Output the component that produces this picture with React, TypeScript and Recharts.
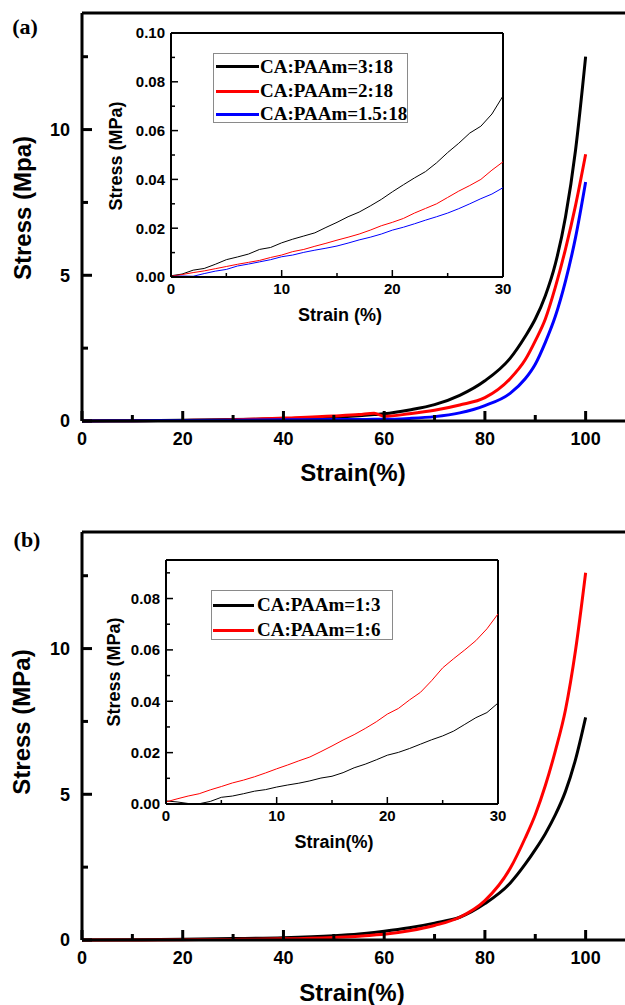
import React from 'react';
import { LineChart, Line, XAxis, YAxis, ReferenceLine } from 'recharts';

// main curves, strain in %
const strain = [0, 10, 20, 30, 40, 50, 55, 58, 60, 65, 70, 75, 80, 85, 88, 90, 92, 94, 96, 98, 100];
const a_3_18 = [0, 0.01, 0.03, 0.05, 0.08, 0.13, 0.18, 0.22, 0.25, 0.38, 0.56, 0.88, 1.38, 2.15, 2.9, 3.5, 4.3, 5.4, 7.0, 9.3, 12.5];
const a_2_18 = [0, 0.01, 0.02, 0.04, 0.1, 0.17, 0.22, 0.27, 0.16, 0.25, 0.37, 0.55, 0.8, 1.45, 2.1, 2.75, 3.5, 4.6, 5.9, 7.4, 9.15];
const a_15_18 = [0, 0.01, 0.02, 0.03, 0.04, 0.05, 0.05, 0.06, 0.06, 0.09, 0.15, 0.28, 0.53, 0.95, 1.45, 1.95, 2.7, 3.6, 4.8, 6.3, 8.2];
const b_1_3 = [0, 0.01, 0.03, 0.05, 0.08, 0.15, 0.21, 0.26, 0.3, 0.42, 0.58, 0.78, 1.25, 1.95, 2.6, 3.1, 3.65, 4.3, 5.1, 6.2, 7.64];
const b_1_6 = [0, 0, 0.01, 0.02, 0.04, 0.09, 0.13, 0.17, 0.2, 0.32, 0.5, 0.78, 1.35, 2.45, 3.5, 4.3, 5.3, 6.5, 7.9, 9.95, 12.6];

// insets, strain 0-30 %
const insetStrain = [0, 1, 2, 3, 4, 5, 6, 7, 8, 9, 10, 11, 12, 13, 14, 15, 16, 17, 18, 19, 20, 21, 22, 23, 24, 25, 26, 27, 28, 29, 30];
const ia_3_18 = [0.0005, 0.0012, 0.0028, 0.0035, 0.0052, 0.0071, 0.0082, 0.0094, 0.0113, 0.0121, 0.014, 0.0155, 0.0168, 0.0181, 0.0203, 0.0224, 0.0247, 0.0266, 0.0291, 0.0318, 0.0349, 0.0378, 0.0406, 0.0432, 0.0468, 0.051, 0.0548, 0.059, 0.0618, 0.0668, 0.0742];
const ia_2_18 = [0.0003, 0.001, 0.0018, 0.0025, 0.0034, 0.0043, 0.0052, 0.006, 0.0068, 0.008, 0.009, 0.0104, 0.0113, 0.0126, 0.0138, 0.0151, 0.0163, 0.0176, 0.0192, 0.021, 0.0224, 0.024, 0.0262, 0.0281, 0.03, 0.0326, 0.0352, 0.0375, 0.04, 0.0438, 0.0472];
const ia_15_18 = [0.0002, 0.0004, 0.0003, 0.0014, 0.0024, 0.0031, 0.0045, 0.0053, 0.0062, 0.0071, 0.0083, 0.009, 0.0101, 0.011, 0.0118, 0.0127, 0.0139, 0.0152, 0.0163, 0.0176, 0.0192, 0.0204, 0.0218, 0.0233, 0.0247, 0.0262, 0.028, 0.03, 0.0321, 0.034, 0.0366];
const ib_1_3 = [0.0012, 0.0008, 0.0002, 0.0001, 0.001, 0.0026, 0.0031, 0.004, 0.005, 0.0056, 0.0066, 0.0074, 0.0081, 0.009, 0.0101, 0.0108, 0.0122, 0.0141, 0.0155, 0.0172, 0.019, 0.0201, 0.0216, 0.0233, 0.025, 0.0265, 0.0284, 0.031, 0.0336, 0.0356, 0.0393];
const ib_1_6 = [0.0008, 0.002, 0.0031, 0.004, 0.0055, 0.0068, 0.0082, 0.0093, 0.0106, 0.0121, 0.0137, 0.0152, 0.0168, 0.0183, 0.0204, 0.0226, 0.0249, 0.027, 0.0294, 0.032, 0.035, 0.0372, 0.0405, 0.0435, 0.048, 0.053, 0.0566, 0.06, 0.0636, 0.0682, 0.074];

const mainXTicks = [0, 10, 20, 30, 40, 50, 60, 70, 80, 90, 100];
const mainYTicks = [0, 2.5, 5, 7.5, 10, 12.5];
const insetXTicks = [0, 5, 10, 15, 20, 25, 30];
const insetYTicksA = [0, 0.01, 0.02, 0.03, 0.04, 0.05, 0.06, 0.07, 0.08, 0.09, 0.1];
const insetYTicksB = [0, 0.01, 0.02, 0.03, 0.04, 0.05, 0.06, 0.07, 0.08, 0.09];

const SANS = '"Liberation Sans", Arial, sans-serif';
const SERIF = '"Liberation Serif", "Times New Roman", serif';

type Series = { key: string; label: string; color: string; values: number[] };

const toRows = (xs: number[], series: Series[]) =>
  xs.map((x, i) => {
    const r: any = { strain: x };
    series.forEach((s) => (r[s.key] = s.values[i]));
    return r;
  });

const mainA: Series[] = [
  { key: 's1', label: 'CA:PAAm=3:18', color: '#000000', values: a_3_18 },
  { key: 's2', label: 'CA:PAAm=2:18', color: '#ff0000', values: a_2_18 },
  { key: 's3', label: 'CA:PAAm=1.5:18', color: '#0000ff', values: a_15_18 },
];
const insetA: Series[] = [
  { key: 's1', label: 'CA:PAAm=3:18', color: '#000000', values: ia_3_18 },
  { key: 's2', label: 'CA:PAAm=2:18', color: '#ff0000', values: ia_2_18 },
  { key: 's3', label: 'CA:PAAm=1.5:18', color: '#0000ff', values: ia_15_18 },
];
const mainB: Series[] = [
  { key: 's1', label: 'CA:PAAm=1:3', color: '#000000', values: b_1_3 },
  { key: 's2', label: 'CA:PAAm=1:6', color: '#ff0000', values: b_1_6 },
];
const insetB: Series[] = [
  { key: 's1', label: 'CA:PAAm=1:3', color: '#000000', values: ib_1_3 },
  { key: 's2', label: 'CA:PAAm=1:6', color: '#ff0000', values: ib_1_6 },
];

// inward ticks, label only on major ones
const xTick = (isMajor: (v: number) => boolean, fmt: (v: number) => string, big: number, small: number, sw: number, fs: number, dy: number) =>
  (props: any) => {
    const { x, y, payload } = props;
    const m = isMajor(payload.value);
    return (
      <g>
        <line x1={x} x2={x} y1={y} y2={y - (m ? big : small)} stroke="#000" strokeWidth={sw} />
        {m && (
          <text x={x} y={y + dy} textAnchor="middle" fontFamily={SANS} fontWeight="bold" fontSize={fs} fill="#000">
            {fmt(payload.value)}
          </text>
        )}
      </g>
    );
  };

const yTick = (isMajor: (v: number) => boolean, fmt: (v: number) => string, big: number, small: number, sw: number, fs: number, dx: number) =>
  (props: any) => {
    const { x, y, payload } = props;
    const m = isMajor(payload.value);
    return (
      <g>
        <line x1={x} x2={x + (m ? big : small)} y1={y} y2={y} stroke="#000" strokeWidth={sw} />
        {m && (
          <text x={x - dx} y={y + fs * 0.36} textAnchor="end" fontFamily={SANS} fontWeight="bold" fontSize={fs} fill="#000">
            {fmt(payload.value)}
          </text>
        )}
      </g>
    );
  };

const MainChart = ({ top, series }: { top: number; series: Series[] }) => (
  <div style={{ position: 'absolute', left: 0, top }}>
    <LineChart width={636} height={451} data={toRows(strain, series)} margin={{ top: 13, right: 0, bottom: 0, left: 0 }}>
      <XAxis
        type="number"
        dataKey="strain"
        domain={[0, 110]}
        ticks={mainXTicks}
        interval={0}
        height={30}
        tickSize={0}
        tickMargin={0}
        tickLine={false}
        axisLine={{ stroke: '#000', strokeWidth: 3 }}
        tick={xTick((v) => v % 20 === 0, (v) => String(v), 10, 6, 3, 18, 24)}
      />
      <YAxis
        type="number"
        domain={[0, 14]}
        ticks={mainYTicks}
        interval={0}
        width={82}
        tickSize={0}
        tickMargin={0}
        tickLine={false}
        axisLine={{ stroke: '#000', strokeWidth: 3 }}
        tick={yTick((v) => v % 5 === 0, (v) => String(v), 10, 6, 3, 18, 12)}
      />
      <ReferenceLine y={14} stroke="#000" strokeWidth={3} />
      {series.map((s) => (
        <Line key={s.key} type="monotone" dataKey={s.key} stroke={s.color} strokeWidth={3} dot={false} isAnimationActive={false} />
      ))}
    </LineChart>
  </div>
);

const InsetChart = ({ top, axisX, yMax, yTicks, series }: { top: number; axisX: number; yMax: number; yTicks: number[]; series: Series[] }) => (
  <div style={{ position: 'absolute', left: 0, top }}>
    <LineChart width={axisX + 342} height={307} data={toRows(insetStrain, series)} margin={{ top: 33, right: 10, bottom: 0, left: 0 }}>
      <XAxis
        type="number"
        dataKey="strain"
        domain={[0, 30]}
        ticks={insetXTicks}
        interval={0}
        height={30}
        tickSize={0}
        tickMargin={0}
        tickLine={false}
        axisLine={{ stroke: '#000', strokeWidth: 2 }}
        tick={xTick((v) => v % 10 === 0, (v) => String(v), 7, 4, 1.5, 15, 17)}
      />
      <YAxis
        type="number"
        domain={[0, yMax]}
        ticks={yTicks}
        interval={0}
        width={axisX}
        tickSize={0}
        tickMargin={0}
        tickLine={false}
        axisLine={{ stroke: '#000', strokeWidth: 2 }}
        tick={yTick((v) => Math.round(v * 100) % 2 === 0, (v) => v.toFixed(2), 7, 4, 1.5, 15, 6)}
      />
      <ReferenceLine y={yMax} stroke="#000" strokeWidth={2} />
      <ReferenceLine x={30} stroke="#000" strokeWidth={2} />
      {series.map((s) => (
        <Line key={s.key} type="linear" dataKey={s.key} stroke={s.color} strokeWidth={1} dot={false} isAnimationActive={false} />
      ))}
    </LineChart>
  </div>
);

const LegendBox = ({ left, top, width, height, rows, lineX, lineW, textX, series }: any) => (
  <div style={{ position: 'absolute', left, top, width, height, border: '1px solid #8a8a8a', boxSizing: 'border-box', background: '#fff' }}>
    {series.map((s: Series, i: number) => (
      <div key={s.key} style={{ position: 'absolute', left: 0, top: rows[i] - 12, height: 24, width: width - 2 }}>
        <div style={{ position: 'absolute', left: lineX, top: 10.5, width: lineW, height: 3, background: s.color }} />
        <div style={{ position: 'absolute', left: textX, top: 0, lineHeight: '24px', fontFamily: SERIF, fontWeight: 'bold', fontSize: 19, whiteSpace: 'nowrap', color: '#000' }}>
          {s.label}
        </div>
      </div>
    ))}
  </div>
);

const Title = ({ x, y, size, text, rotate, serif }: any) => (
  <div
    style={{
      position: 'absolute',
      left: x,
      top: y,
      transform: `translate(-50%, -50%)${rotate ? ' rotate(-90deg)' : ''}`,
      fontFamily: serif ? SERIF : SANS,
      fontWeight: 'bold',
      fontSize: size,
      whiteSpace: 'nowrap',
      lineHeight: 1,
      color: '#000',
    }}
  >
    {text}
  </div>
);

export default function App() {
  return (
    <div style={{ position: 'fixed', left: 0, top: 0, width: 625, height: 1005, overflow: 'hidden', background: '#fff' }}>
      {/* panel (a) */}
      <MainChart top={0} series={mainA} />
      <InsetChart top={0} axisX={171} yMax={0.1} yTicks={insetYTicksA} series={insetA} />
      <LegendBox left={213} top={53} width={195} height={70} rows={[12.7, 37, 60.3]} lineX={2} lineW={43} textX={46} series={insetA} />
      <Title x={25} y={27} size={22} text="(a)" serif />
      <Title x={23} y={208} size={24} text="Stress (Mpa)" rotate />
      <Title x={353} y={473} size={24} text="Strain(%)" />
      <Title x={116} y={156} size={18} text="Stress (MPa)" rotate />
      <Title x={340} y={315} size={18} text="Strain (%)" />

      {/* panel (b) */}
      <MainChart top={519} series={mainB} />
      <InsetChart top={527} axisX={166} yMax={0.095} yTicks={insetYTicksB} series={insetB} />
      <LegendBox left={211} top={590} width={182} height={50} rows={[14, 39.3]} lineX={1} lineW={41} textX={45} series={insetB} />
      <Title x={27} y={540} size={22} text="(b)" serif />
      <Title x={22} y={722} size={24} text="Stress (MPa)" rotate />
      <Title x={352} y={993} size={24} text="Strain(%)" />
      <Title x={114} y={672} size={18} text="Stress (MPa)" rotate />
      <Title x={334} y={842} size={18} text="Strain(%)" />
    </div>
  );
}
